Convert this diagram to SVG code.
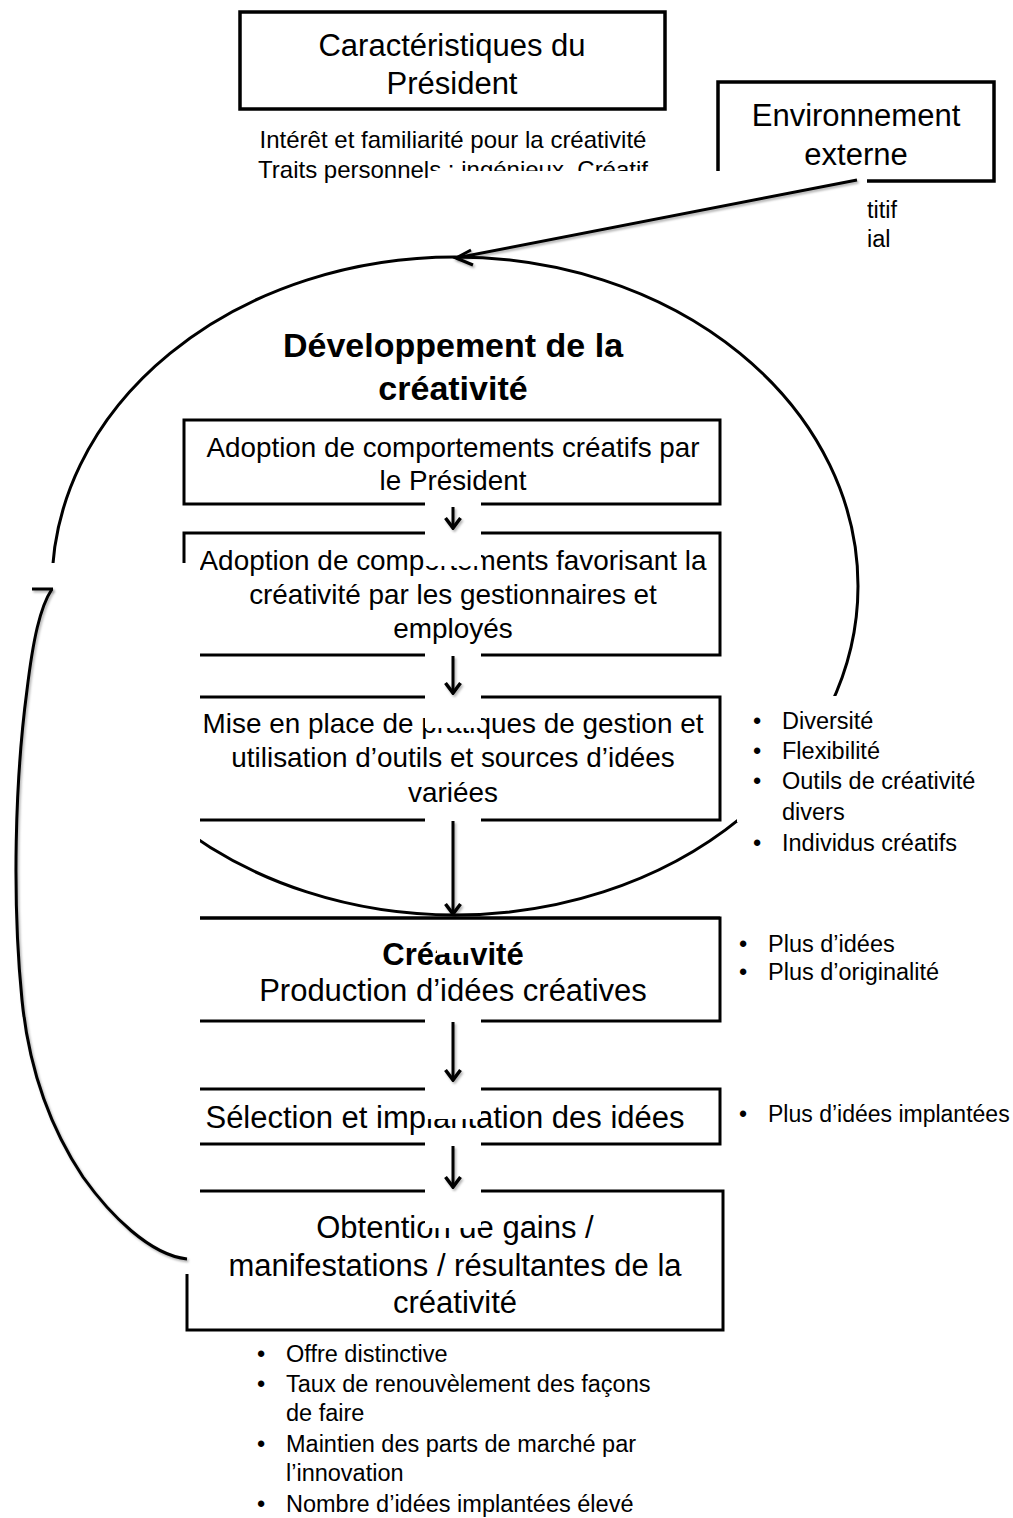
<svg xmlns="http://www.w3.org/2000/svg" width="1013" height="1518" viewBox="0 0 1013 1518">
  <defs>
    <style>
      .box { fill: #ffffff; stroke: #000000; stroke-width: 3; }
      .tbox { fill: #ffffff; stroke: #000000; stroke-width: 3.5; }
      .mask { fill: #ffffff; stroke: none; }
      .txt { font-family: "Liberation Sans", Arial, sans-serif; fill: #000000; }
      .c { text-anchor: middle; }
      .bold { font-weight: bold; }
      .line { fill: none; stroke: #000000; stroke-width: 3; }
      .conn { fill: none; stroke: #000000; stroke-width: 3; filter: url(#shadow); }
    </style>
    <filter id="shadow" filterUnits="userSpaceOnUse" x="0" y="0" width="1013" height="1518">
      <feDropShadow dx="1.5" dy="2" stdDeviation="1.2" flood-color="#000" flood-opacity="0.3"/>
    </filter>
    <marker id="head" viewBox="-13 -9 15 18" refX="0" refY="0" markerWidth="15" markerHeight="18" markerUnits="userSpaceOnUse" orient="auto">
      <path d="M-10,-7.5 L0,0 L-10,7.5" fill="none" stroke="#000" stroke-width="3.5"/>
    </marker>
  </defs>

  <rect width="1013" height="1518" fill="#ffffff"/>

  <!-- President characteristics -->
  <g id="president">
    <rect class="tbox" x="240" y="12" width="425" height="97"/>
    <text class="txt c" x="452" y="56" font-size="31">Caractéristiques du</text>
    <text class="txt c" x="452" y="94" font-size="31">Président</text>
    <text class="txt c" x="453" y="148" font-size="24">Intérêt et familiarité pour la créativité</text>
    <text class="txt c" x="453" y="178" font-size="24">Traits personnels : ingénieux, Créatif</text>
  </g>

  <!-- External environment -->
  <g id="environnement">
    <rect class="tbox" x="718" y="82" width="276" height="99"/>
    <text class="txt c" x="856" y="126" font-size="31">Environnement</text>
    <text class="txt c" x="856" y="165" font-size="31">externe</text>
    <text class="txt" x="867" y="218" font-size="23.5">titif</text>
    <text class="txt" x="867" y="247" font-size="23.5">ial</text>
  </g>

  <!-- white panel laid over the lower text -->
  <rect class="mask" x="429" y="171" width="438" height="82"/>

  <!-- Title inside the loop -->
  <g id="developpement">
    <text class="txt c bold" x="453" y="357" font-size="34">Développement de la</text>
    <text class="txt c bold" x="453" y="400" font-size="34">créativité</text>
  </g>

  <!-- Process steps -->
  <g id="adoption-president">
    <rect class="box" x="184" y="420" width="536" height="84"/>
    <text class="txt c" x="453" y="457" font-size="27.8">Adoption de comportements créatifs par</text>
    <text class="txt c" x="453" y="490" font-size="27.8">le Président</text>
  </g>

  <g id="adoption-equipe">
    <rect class="box" x="184" y="533" width="536" height="122"/>
    <text class="txt c" x="453" y="570" font-size="27.9">Adoption de comportements favorisant la</text>
    <text class="txt c" x="453" y="604" font-size="27.9">créativité par les gestionnaires et</text>
    <text class="txt c" x="453" y="638" font-size="27.9">employés</text>
  </g>

  <g id="pratiques">
    <rect class="box" x="184" y="697" width="536" height="123"/>
    <text class="txt c" x="453" y="733" font-size="27.9">Mise en place de pratiques de gestion et</text>
    <text class="txt c" x="453" y="767" font-size="27.9">utilisation d’outils  et sources d’idées</text>
    <text class="txt c" x="453" y="802" font-size="27.9">variées</text>
  </g>

  <g id="creativite">
    <rect class="box" x="184" y="918" width="536" height="103"/>
    <text class="txt c bold" x="453" y="965" font-size="31">Créativité</text>
    <text class="txt c" x="453" y="1001" font-size="31">Production d’idées créatives</text>
  </g>

  <g id="selection">
    <rect class="box" x="170" y="1089" width="550" height="55"/>
    <text class="txt c" x="445" y="1128" font-size="31">Sélection et implantation des idées</text>
  </g>

  <g id="gains">
    <rect class="box" x="187" y="1191" width="536" height="139"/>
    <text class="txt c" x="455" y="1238" font-size="31">Obtention de gains /</text>
    <text class="txt c" x="455" y="1276" font-size="31">manifestations / résultantes de la</text>
    <text class="txt c" x="455" y="1313" font-size="31">créativité</text>
  </g>

  <!-- white strips behind the step arrows -->
  <g id="arrow-panels">
    <rect class="mask" x="425" y="500" width="56" height="66"/>
    <rect class="mask" x="425" y="652" width="56" height="76"/>
    <rect class="mask" x="425" y="817" width="56" height="98"/>
    <rect class="mask" x="437" y="921" width="32" height="32"/>
    <rect class="mask" x="425" y="1018" width="56" height="101"/>
    <rect class="mask" x="425" y="1140" width="56" height="88"/>
  </g>
  <line class="line" x1="184" y1="918" x2="720" y2="918"/>

  <!-- development loop -->
  <ellipse id="loop" class="line" cx="455" cy="586" rx="403" ry="329"/>

  <!-- white panels over the left side and the bullet list -->
  <rect class="mask" x="0" y="563" width="200" height="711"/>
  <rect class="mask" x="737" y="696" width="276" height="126"/>

  <g id="connectors">
    <line class="conn" x1="453" y1="507" x2="453" y2="528" marker-end="url(#head)"/>
    <line class="conn" x1="453" y1="656" x2="453" y2="693" marker-end="url(#head)"/>
    <line class="conn" x1="453" y1="821" x2="453" y2="914" marker-end="url(#head)"/>
    <line class="conn" x1="453" y1="1022" x2="453" y2="1080" marker-end="url(#head)"/>
    <line class="conn" x1="453" y1="1146" x2="453" y2="1187" marker-end="url(#head)"/>
    <path class="conn" d="M857,180 L456,258" stroke-width="3.5"/>
    <path class="conn" d="M471,250 L456,258 L473,265" stroke-width="3.5"/>
    <path class="conn" d="M187,1259 C150,1255 110,1215 83,1177 C55,1135 30,1080 22,1000 C12,900 15,780 27,690 C33,640 40,607 52,589" stroke-width="3.5"/>
    <path class="conn" d="M32,589 L53,589" stroke-width="3.5"/>
  </g>

  <!-- outcome lists -->
  <g id="pratiques-liste" class="txt" font-size="23.5">
    <text x="753" y="729">•</text><text x="782" y="729">Diversité</text>
    <text x="753" y="759">•</text><text x="782" y="759">Flexibilité</text>
    <text x="753" y="789">•</text><text x="782" y="789">Outils de créativité</text>
    <text x="782" y="820">divers</text>
    <text x="753" y="851">•</text><text x="782" y="851">Individus créatifs</text>
  </g>

  <g id="creativite-liste" class="txt" font-size="23.5">
    <text x="739" y="952">•</text><text x="768" y="952">Plus d’idées</text>
    <text x="739" y="980">•</text><text x="768" y="980">Plus d’originalité</text>
  </g>

  <g id="selection-liste" class="txt" font-size="23">
    <text x="739" y="1122">•</text><text x="768" y="1122">Plus d’idées implantées</text>
  </g>

  <g id="gains-liste" class="txt" font-size="23.5">
    <text x="257" y="1362">•</text><text x="286" y="1362">Offre distinctive</text>
    <text x="257" y="1392">•</text><text x="286" y="1392">Taux de renouvèlement des façons</text>
    <text x="286" y="1421">de faire</text>
    <text x="257" y="1452">•</text><text x="286" y="1452">Maintien des parts de marché par</text>
    <text x="286" y="1481">l’innovation</text>
    <text x="257" y="1512">•</text><text x="286" y="1512">Nombre d’idées implantées élevé</text>
  </g>
</svg>
